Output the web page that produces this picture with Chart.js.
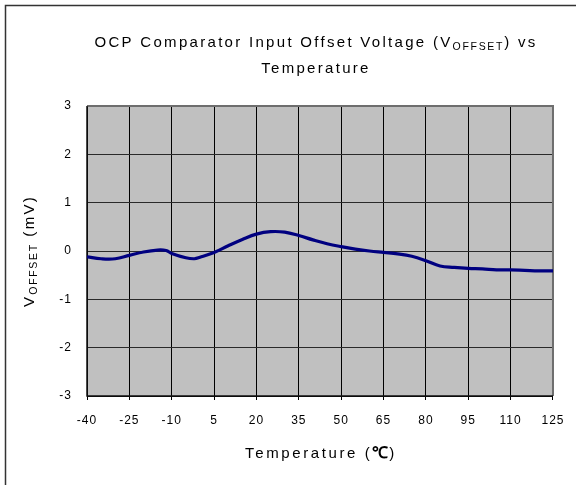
<!DOCTYPE html>
<html>
<head>
<meta charset="utf-8">
<script src="https://cdn.jsdelivr.net/npm/chart.js@4"></script>
<style>
  html, body { margin: 0; padding: 0; background: #fff; }
  #wrap { width: 576px; height: 485px; position: relative; }
</style>
</head>
<body>
<div id="wrap"><canvas id="c" width="576" height="485"></canvas></div>
<script>
// ---- data ----
const temperatures = [-40, -35, -30, -25, -20, -15, -12, -10, -5, -2, 0, 5, 10, 15, 20, 25, 30, 35, 40, 45, 50, 55, 60, 65, 70, 75, 80, 85, 90, 95, 100, 105, 110, 115, 120, 125];
const offsetMv = [-0.12, -0.16, -0.16, -0.09, -0.02, 0.02, 0.01, -0.05, -0.14, -0.16, -0.13, -0.03, 0.11, 0.24, 0.35, 0.40, 0.39, 0.32, 0.23, 0.15, 0.09, 0.04, 0.00, -0.03, -0.06, -0.11, -0.20, -0.31, -0.34, -0.36, -0.37, -0.39, -0.39, -0.40, -0.41, -0.41];
const xTickValues = [-40, -25, -10, 5, 20, 35, 50, 65, 80, 95, 110, 125];
const yTickValues = [-3, -2, -1, 0, 1, 2, 3];
const titleLine1 = ['OCP Comparator Input Offset Voltage (V', 'OFFSET', ') vs'];
const titleLine2 = 'Temperature';
const yTitleParts = ['V', 'OFFSET', ' (mV)'];
const xTitleParts = ['Temperature (', '\u2103', ')'];

const FAM = "'Liberation Sans', Arial, Helvetica, sans-serif";

function drawRich(ctx, segs, cx, cy, rotate) {
  ctx.save();
  ctx.translate(cx, cy);
  if (rotate) ctx.rotate(-Math.PI / 2);
  ctx.textBaseline = 'alphabetic';
  ctx.textAlign = 'left';
  ctx.fillStyle = '#000';
  let total = 0;
  const ws = segs.map(s => {
    ctx.font = s.font; ctx.letterSpacing = s.ls || '0px';
    const w = ctx.measureText(s.text).width;
    total += w; return w;
  });
  let x = -total / 2;
  const base = 5.4;
  segs.forEach((s, i) => {
    ctx.font = s.font; ctx.letterSpacing = s.ls || '0px';
    ctx.fillText(s.text, x, base + (s.dy || 0));
    x += ws[i];
  });
  ctx.restore();
}

const decor = {
  id: 'decor',
  beforeDraw(chart) {
    const ctx = chart.ctx;
    const a = chart.chartArea;
    ctx.save();
    ctx.fillStyle = '#ffffff';
    ctx.fillRect(0, 0, chart.width, chart.height);
    ctx.fillStyle = '#c0c0c0';
    ctx.fillRect(a.left, a.top, a.right - a.left, a.bottom - a.top);
    // outer frame (left and top visible)
    ctx.strokeStyle = '#333';
    ctx.lineWidth = 1.5;
    ctx.beginPath();
    ctx.moveTo(5.5, chart.height + 2);
    ctx.lineTo(5.5, 5.5);
    ctx.lineTo(chart.width + 2, 5.5);
    ctx.stroke();
    ctx.restore();
    ctx.letterSpacing = '1px';
  },
  beforeDatasetsDraw(chart) {
    const ctx = chart.ctx;
    const a = chart.chartArea;
    ctx.save();
    ctx.strokeStyle = '#6e6e6e';
    ctx.lineWidth = 2;
    ctx.beginPath();
    ctx.moveTo(a.left, a.top);
    ctx.lineTo(a.right, a.top);
    ctx.lineTo(a.right, a.bottom);
    ctx.stroke();
    ctx.strokeStyle = '#111';
    ctx.lineWidth = 1.5;
    ctx.beginPath();
    ctx.moveTo(a.left, a.top);
    ctx.lineTo(a.left, a.bottom);
    ctx.lineTo(a.right, a.bottom);
    ctx.stroke();
    ctx.restore();
  },
  afterDraw(chart) {
    const ctx = chart.ctx;
    const a = chart.chartArea;
    const big = '15px ' + FAM;
    const sub = '10.5px ' + FAM;
    const cx = (a.left + a.right) / 2 - 4;
    drawRich(ctx, [
      { text: titleLine1[0], font: big, ls: '2.3px' },
      { text: titleLine1[1], font: sub, ls: '1.7px', dy: 3 },
      { text: titleLine1[2], font: big, ls: '2.3px' }
    ], cx, 42);
    drawRich(ctx, [{ text: titleLine2, font: big, ls: '2.3px' }], cx, 68);
    drawRich(ctx, [
      { text: xTitleParts[0], font: big, ls: '2.6px' },
      { text: xTitleParts[1], font: 'bold 16px ' + FAM, ls: '1px' },
      { text: xTitleParts[2], font: big, ls: '2.6px' }
    ], (a.left + a.right) / 2 + 1, 453);
    drawRich(ctx, [
      { text: yTitleParts[0], font: big, ls: '2.3px' },
      { text: yTitleParts[1], font: sub, ls: '1.7px', dy: 3 },
      { text: yTitleParts[2], font: big, ls: '2.3px' }
    ], 29, (a.top + a.bottom) / 2, true);
  }
};

new Chart(document.getElementById('c'), {
  type: 'line',
  data: {
    datasets: [{
      data: temperatures.map((t, i) => ({ x: t, y: offsetMv[i] })),
      borderColor: '#000080',
      borderWidth: 3.2,
      pointRadius: 0,
      tension: 0.4,
      fill: false
    }]
  },
  options: {
    responsive: false,
    animation: false,
    devicePixelRatio: 1,
    layout: { padding: { top: 106, right: 19, left: 0, bottom: 0 } },
    plugins: { legend: { display: false }, title: { display: false }, tooltip: { enabled: false } },
    scales: {
      x: {
        type: 'linear',
        min: -40, max: 125,
        afterBuildTicks: s => { s.ticks = xTickValues.map(v => ({ value: v })); },
        afterFit: s => { s.height = 89; },
        ticks: { color: '#000', font: { size: 12, family: FAM }, padding: 13, maxRotation: 0, autoSkip: false },
        grid: { color: '#000', lineWidth: 1, tickLength: 4, drawTicks: true },
        border: { color: '#000', width: 1 }
      },
      y: {
        min: -3, max: 3,
        afterBuildTicks: s => { s.ticks = yTickValues.map(v => ({ value: v })); },
        afterFit: s => { s.width = 87; },
        ticks: { color: '#000', font: { size: 12, family: FAM }, padding: 15 },
        grid: { color: '#2a2a2a', lineWidth: 1, drawTicks: false },
        border: { color: '#000', width: 1 }
      }
    }
  },
  plugins: [decor]
});
</script>
</body>
</html>
